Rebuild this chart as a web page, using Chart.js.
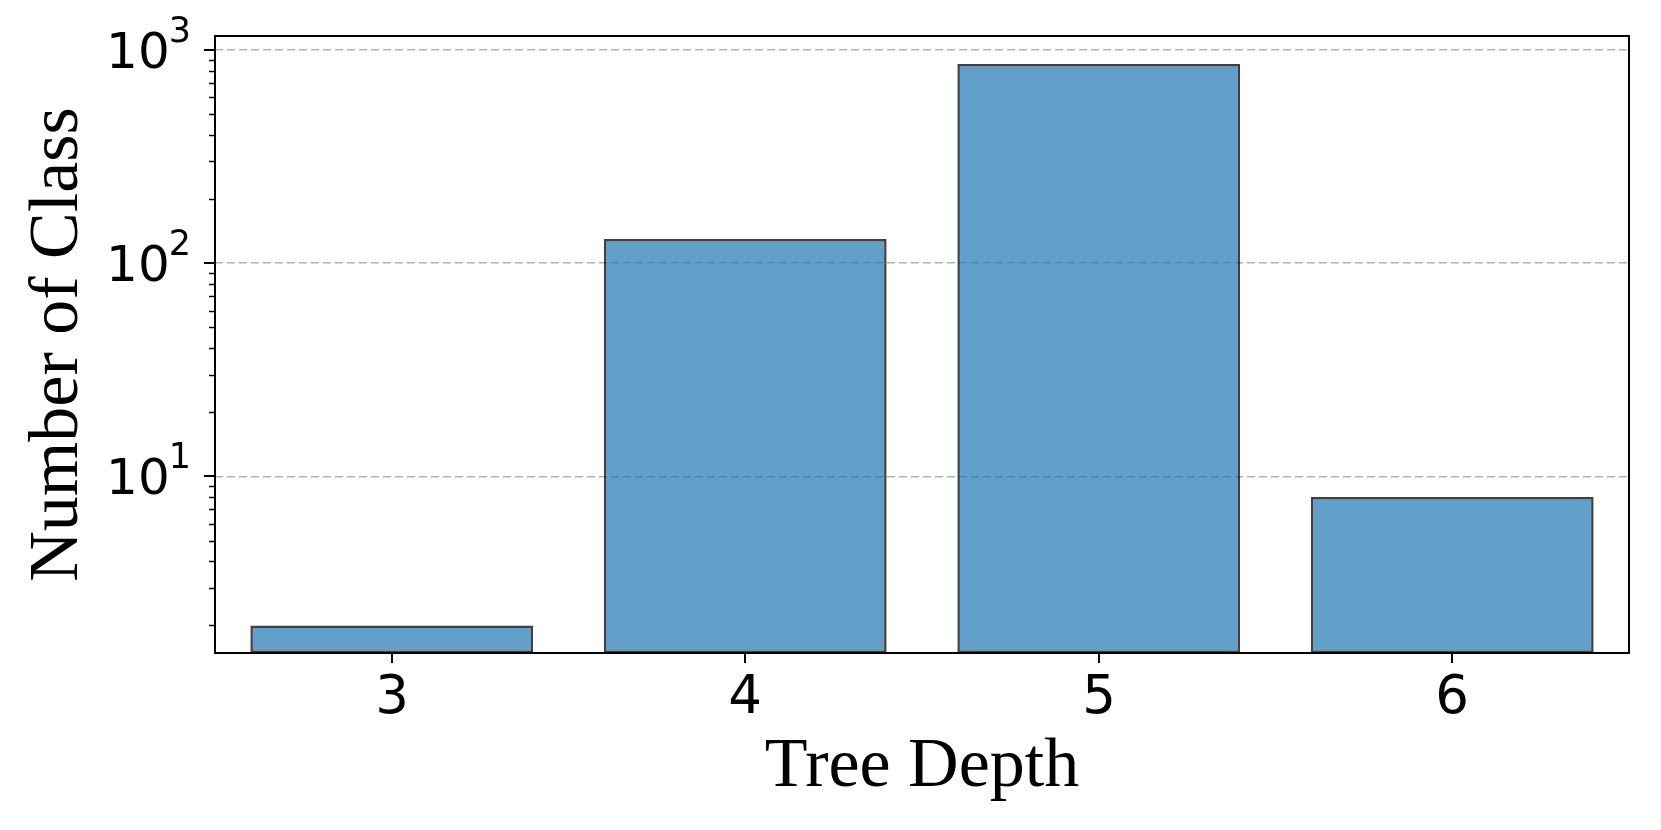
<!DOCTYPE html>
<html>
<head>
<meta charset="utf-8">
<script src="https://cdn.jsdelivr.net/npm/chart.js@4.4.1/dist/chart.umd.min.js"></script>
<style>
  html, body { margin: 0; padding: 0; background: #fff; }
  #wrap { width: 1661px; height: 830px; }
</style>
</head>
<body>
<div id="wrap"><canvas id="chart" width="1661" height="830"></canvas></div>
<script>
// ── data ─────────────────────────────────────────
const depths = ['3', '4', '5', '6'];
const classCounts = [2, 130, 860, 8];
const majorTicks = [10, 100, 1000];
const majorExponents = ['1', '2', '3'];
const minorTicks = [2, 3, 4, 5, 6, 7, 8, 9, 20, 30, 40, 50, 60, 70, 80, 90, 200, 300, 400, 500, 600, 700, 800, 900];
const yMin = 1.486;
const yMax = 1163;

const TICK_FONT = '"DejaVu Sans", sans-serif';
const TITLE_FONT = '"Liberation Serif", "Times New Roman", serif';

// frame, tick marks, tick labels and axis titles
const axisDecor = {
  id: 'axisDecor',
  afterDraw(chart) {
    const { ctx, chartArea: a, scales: { x, y } } = chart;
    ctx.save();

    // frame
    ctx.strokeStyle = '#000';
    ctx.lineWidth = 2;
    ctx.strokeRect(a.left, a.top, a.right - a.left, a.bottom - a.top);

    // y minor ticks
    ctx.lineWidth = 1.5;
    ctx.beginPath();
    minorTicks.forEach(v => {
      const py = Math.round(y.getPixelForValue(v)) + 0.5;
      if (py < a.top || py > a.bottom) return;
      ctx.moveTo(a.left - 6, py);
      ctx.lineTo(a.left, py);
    });
    ctx.stroke();

    // y major ticks + labels (10 with superscript exponent)
    ctx.lineWidth = 2;
    ctx.fillStyle = '#000';
    majorTicks.forEach((v, i) => {
      const py = Math.round(y.getPixelForValue(v));
      ctx.beginPath();
      ctx.moveTo(a.left - 11, py);
      ctx.lineTo(a.left, py);
      ctx.stroke();

      ctx.textAlign = 'right';
      ctx.textBaseline = 'alphabetic';
      ctx.font = '35px ' + TICK_FONT;
      const supRight = 191;
      const supW = ctx.measureText(majorExponents[i]).width;
      ctx.fillText(majorExponents[i], supRight, py - 8);
      ctx.font = '50px ' + TICK_FONT;
      ctx.fillText('10', supRight - supW + 1, py + 18.3);
    });

    // x ticks + labels
    depths.forEach((d, i) => {
      const px = Math.round(x.getPixelForValue(i));
      ctx.beginPath();
      ctx.moveTo(px, a.bottom);
      ctx.lineTo(px, a.bottom + 10);
      ctx.stroke();
      ctx.font = '53px ' + TICK_FONT;
      ctx.textAlign = 'center';
      ctx.textBaseline = 'alphabetic';
      ctx.fillText(d, px, 713);
    });

    // axis titles
    ctx.font = '70px ' + TITLE_FONT;
    ctx.textAlign = 'center';
    ctx.textBaseline = 'alphabetic';
    ctx.fillText('Tree Depth', (a.left + a.right) / 2, 786);

    ctx.translate(77, (a.top + a.bottom) / 2);
    ctx.rotate(-Math.PI / 2);
    ctx.fillText('Number of Class', 0, 0);

    ctx.restore();
  }
};

new Chart(document.getElementById('chart'), {
  type: 'bar',
  data: {
    labels: depths,
    datasets: [{
      data: classCounts,
      backgroundColor: 'rgba(31,119,180,0.7)',
      borderColor: 'rgba(0,0,0,0.75)',
      borderWidth: 2.5,
      borderSkipped: false,
      barPercentage: 0.8,
      categoryPercentage: 1.0,
    }]
  },
  options: {
    responsive: false,
    animation: false,
    devicePixelRatio: 1,
    layout: { padding: { left: 215, right: 32, top: 36, bottom: 177 } },
    plugins: { legend: { display: false }, tooltip: { enabled: false } },
    scales: {
      x: {
        offset: true,
        grid: { display: false, drawTicks: false },
        border: { display: false },
        ticks: { display: false },
        afterFit(s) { s.height = 0; }
      },
      y: {
        type: 'logarithmic',
        min: yMin,
        max: yMax,
        afterBuildTicks(s) { s.ticks = majorTicks.map(v => ({ value: v })); },
        grid: { color: '#b3b3b3', lineWidth: 1.6, drawTicks: false },
        border: { display: false, dash: [8, 4] },
        ticks: { display: false },
        afterFit(s) { s.width = 0; }
      }
    }
  },
  plugins: [axisDecor]
});
</script>
</body>
</html>
